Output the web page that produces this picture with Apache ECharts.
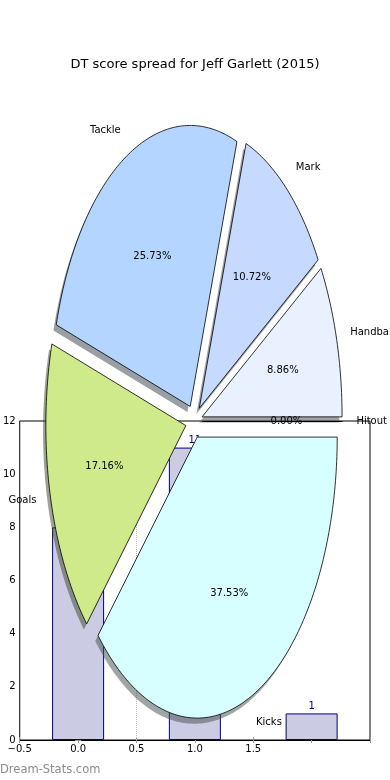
<!DOCTYPE html>
<html><head><meta charset="utf-8">
<script src="https://cdn.jsdelivr.net/npm/echarts@6/dist/echarts.min.js"></script>
<style>html,body{margin:0;padding:0;background:#fff}#c{width:390px;height:780px}</style>
</head><body><div id="c"></div>
<script>
// ---- data ----
const chartTitle = 'DT score spread for Jeff Garlett (2015)';
const watermark = 'Dream-Stats.com';
const barX = [0, 1, 2];
const barValues = [8, 11, 1];
const xTickLabels = ['\u22120.5', '0.0', '0.5', '1.0', '1.5'];
const refLineX = [0.5];
const pieLabels = ['Handball', 'Mark', 'Tackle', 'Goals', 'Kicks', 'Hitout'];
const piePercents = [8.86, 10.72, 25.73, 17.16, 37.53, 0.00];
const pieColors = ['#e9f1ff', '#c6d9ff', '#b3d5ff', '#cfea8a', '#d8ffff', '#eef3ff'];

// ---- layout ----
const PIE = { cx: 194 / 390, cy: 421.5 / 780, rx: 140 / 390, ry: 281 / 780, explode: 0.06, shadow: 0.02 };
const FONT = '"DejaVu Sans", sans-serif';

const total = piePercents.reduce((a, b) => a + b, 0);
const cum = []; { let acc = 0; piePercents.forEach(v => { cum.push(acc); acc += v; }); }

function geom(api) {
  const W = api.getWidth(), H = api.getHeight();
  return { cx: W * PIE.cx, cy: H * PIE.cy, rx: W * PIE.rx, ry: H * PIE.ry };
}
function wedge(api, i, v, dx, dy) {
  const g = geom(api);
  const a0 = cum[i] / total * 2 * Math.PI, a1 = (cum[i] + v) / total * 2 * Math.PI;
  const mid = (a0 + a1) / 2;
  const ox = g.cx + PIE.explode * g.rx * Math.cos(mid) + dx * g.rx;
  const oy = g.cy - PIE.explode * g.ry * Math.sin(mid) + dy * g.ry;
  const pts = [[ox, oy]];
  const n = Math.max(1, Math.ceil((a1 - a0) / (Math.PI / 180)));
  for (let k = 0; k <= n; k++) {
    const a = a0 + (a1 - a0) * k / n;
    pts.push([ox + g.rx * Math.cos(a), oy - g.ry * Math.sin(a)]);
  }
  return { pts, ox, oy, mid, g };
}
function shadowColor(hex) {
  const c = [1, 3, 5].map(k => parseInt(hex.substr(k, 2), 16));
  return 'rgba(' + c.map(x => Math.round(x * 0.3)).join(',') + ',0.5)';
}

const chart = echarts.init(document.getElementById('c'), null, { renderer: 'canvas' });
const tickStyle = { show: true, inside: true, length: 3, lineStyle: { color: '#999', width: 1 } };
chart.setOption({
  animation: false,
  backgroundColor: '#fff',
  title: {
    text: chartTitle, left: 'center', top: 53,
    textStyle: { fontFamily: FONT, fontSize: 13, fontWeight: 'normal', color: '#000' }
  },
  graphic: [{
    type: 'text', left: 0, top: 764,
    style: { text: watermark, fill: '#8c8c8c', font: '11.5px ' + FONT }
  }],
  grid: { left: 19, right: 20, top: 421, bottom: 40, show: true, borderColor: '#000', borderWidth: 1, backgroundColor: 'transparent' },
  xAxis: [{
    type: 'value', min: -0.5, max: 2.5, interval: 0.5,
    axisLine: { show: true, onZero: false, lineStyle: { color: '#000', width: 1 } },
    axisTick: tickStyle, splitLine: { show: false },
    axisLabel: {
      color: '#000', fontFamily: FONT, fontSize: 10, margin: 4,
      formatter: v => xTickLabels[Math.round((v + 0.5) / 0.5)] || ''
    }
  }, {
    type: 'value', position: 'top', min: -0.5, max: 2.5, interval: 0.5,
    axisLine: { show: false }, axisTick: tickStyle, axisLabel: { show: false }, splitLine: { show: false }
  }],
  yAxis: [{
    type: 'value', min: 0, max: 12, interval: 2,
    axisLine: { show: true, lineStyle: { color: '#000', width: 1 } },
    axisTick: tickStyle, splitLine: { show: false },
    axisLabel: { color: '#000', fontFamily: FONT, fontSize: 10, margin: 4 }
  }, {
    type: 'value', position: 'right', min: 0, max: 12, interval: 2,
    axisLine: { show: false }, axisTick: tickStyle, axisLabel: { show: false }, splitLine: { show: false }
  }],
  series: [{
    type: 'bar', xAxisIndex: 0, yAxisIndex: 0, z: 2,
    data: barX.map((x, i) => [x, barValues[i]]),
    barWidth: 52,
    itemStyle: { color: '#cbcbe3', borderColor: '#000080', borderWidth: 1 },
    label: { show: true, position: 'top', distance: 2, color: '#000080', fontFamily: FONT, fontSize: 10 },
    markLine: {
      silent: true, symbol: 'none', z: 1,
      label: { show: false },
      lineStyle: { color: '#bbb', type: 'dotted', width: 1 },
      data: refLineX.map(x => ({ xAxis: x }))
    }
  }, {
    type: 'custom', coordinateSystem: 'none', z: 10, silent: true,
    data: piePercents,
    renderItem: function (params, api) {
      const i = params.dataIndex;
      const w = wedge(api, i, api.value(0), -PIE.shadow, PIE.shadow);
      return { type: 'polygon', shape: { points: w.pts }, style: { fill: shadowColor(pieColors[i]), stroke: null } };
    }
  }, {
    type: 'custom', coordinateSystem: 'none', z: 11, silent: true,
    data: piePercents,
    renderItem: function (params, api) {
      const i = params.dataIndex;
      const v = api.value(0);
      const w = wedge(api, i, v, 0, 0);
      const c = Math.cos(w.mid), s = Math.sin(w.mid);
      return {
        type: 'group',
        children: [
          { type: 'polygon', shape: { points: w.pts }, style: { fill: pieColors[i], stroke: '#000', lineWidth: 0.8 } },
          {
            type: 'text', x: w.ox + 1.1 * w.g.rx * c, y: w.oy - 1.1 * w.g.ry * s, z2: 20,
            style: { text: pieLabels[i], fill: '#000', font: '10px ' + FONT, align: c > 0 ? 'left' : 'right', verticalAlign: 'middle' }
          },
          {
            type: 'text', x: w.ox + 0.6 * w.g.rx * c, y: w.oy - 0.6 * w.g.ry * s, z2: 20,
            style: { text: v.toFixed(2) + '%', fill: '#000', font: '10px ' + FONT, align: 'center', verticalAlign: 'middle' }
          }
        ]
      };
    }
  }]
});
</script>
</body></html>
